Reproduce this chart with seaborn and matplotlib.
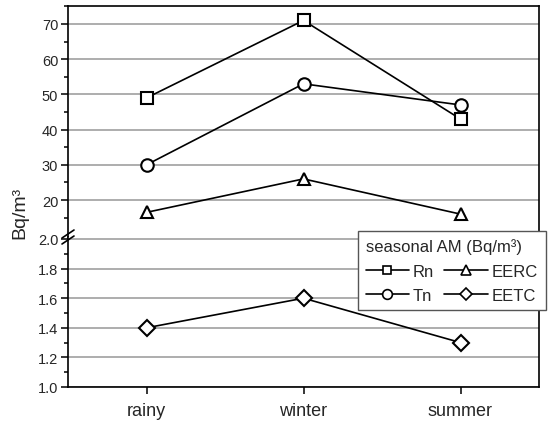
import matplotlib
matplotlib.use("Agg")
import matplotlib.pyplot as plt
from matplotlib.lines import Line2D
from matplotlib.ticker import FixedLocator
import seaborn as sns
import pandas as pd

seasons = ["rainy", "winter", "summer"]
rn = [49, 71, 43]
tn = [30, 53, 47]
eerc = [16.5, 26, 16]
eetc = [1.4, 1.6, 1.3]

upper_ticks = [20, 30, 40, 50, 60, 70]
lower_ticks = [1.0, 1.2, 1.4, 1.6, 1.8, 2.0]

sns.set_theme(style="white")
plt.rcParams['font.family'] = ['Liberation Sans', 'DejaVu Sans']

W, H = 550, 427
fig = plt.figure(figsize=(W / 100, H / 100), dpi=100)
L, R = 68 / W, 539 / W
ytop, ybrk, ybot = 7, 238, 388
ax_up = fig.add_axes([L, 1 - ybrk / H, R - L, (ybrk - ytop) / H])
ax_lo = fig.add_axes([L, 1 - ybot / H, R - L, (ybot - ybrk) / H])

mk = dict(color="black", markerfacecolor="white", markeredgecolor="black",
          markeredgewidth=1.5, markersize=9, linewidth=1.2)

df = pd.DataFrame({"season": seasons, "Rn": rn, "Tn": tn, "EERC": eerc, "EETC": eetc})

sns.lineplot(data=df, x="season", y="Rn", marker="s", ax=ax_up, sort=False, **mk)
sns.lineplot(data=df, x="season", y="Tn", marker="o", ax=ax_up, sort=False, **mk)
sns.lineplot(data=df, x="season", y="EERC", marker="^", ax=ax_up, sort=False, **mk)
sns.lineplot(data=df, x="season", y="EETC", marker="D", ax=ax_lo, sort=False,
             **{**mk, "markersize": 8})

ax_up.set_ylim(9.5, 75.1)
ax_lo.set_ylim(1.0, 2.0135)
for ax in (ax_up, ax_lo):
    ax.set_xlim(-0.5, 2.5)
    ax.set_xlabel("")
    ax.set_ylabel("")
    for s in ax.spines.values():
        s.set_color("black")
        s.set_linewidth(1.2)
    ax.tick_params(axis="y", which="major", left=True, direction="out", length=5,
                   width=1.1, color="black", labelsize=10.5, pad=2)
    ax.tick_params(axis="y", which="minor", left=True, direction="out", length=3,
                   width=1.1, color="black")
    ax.grid(axis="y", which="major", color="#a0a0a0", linewidth=1.2)
    ax.set_axisbelow(True)

ax_up.yaxis.set_major_locator(FixedLocator(upper_ticks))
ax_up.yaxis.set_minor_locator(FixedLocator([15, 25, 35, 45, 55, 65, 75]))
ax_lo.yaxis.set_major_locator(FixedLocator(lower_ticks))
ax_lo.yaxis.set_minor_locator(FixedLocator([1.1, 1.3, 1.5, 1.7, 1.9]))
ax_lo.set_yticklabels([f"{v:.1f}" for v in lower_ticks])

ax_up.spines["bottom"].set_visible(False)
ax_lo.spines["top"].set_visible(False)
ax_up.tick_params(axis="x", bottom=False, labelbottom=False)
ax_lo.tick_params(axis="x", bottom=True, direction="out", length=5, width=1.1,
                  color="black", labelsize=13, pad=6)

# break marks on left spine
for dy in (-3, 3):
    y0 = 1 - (ybrk + dy) / H
    fig.add_artist(Line2D([L - 6 / W, L + 6 / W], [y0 - 4 / H, y0 + 4 / H],
                          color="black", linewidth=1.2, transform=fig.transFigure))

fig.text(20 / W, 1 - 213 / H, "Bq/m³", rotation=90, ha="center", va="center", fontsize=14)

def h(m, ms=6):
    return Line2D([], [], color="black", marker=m, markerfacecolor="white",
                  markeredgecolor="black", markersize=ms, markeredgewidth=1.2,
                  linewidth=1.2)

handles = [h("s", 5.5), h("o", 7), h("^", 7), h("D", 6.5)]
labels = ["Rn", "Tn", "EERC", "EETC"]
leg = fig.legend(handles, labels, title="seasonal AM (Bq/m³)", ncol=2,
                 loc="upper left", bbox_to_anchor=(358 / W, 1 - 232 / H),
                 fontsize=12, title_fontsize=12, frameon=True, fancybox=False,
                 edgecolor="#555555", framealpha=1, handlelength=2.6,
                 columnspacing=0.6, handletextpad=0.25, labelspacing=0.55,
                 borderpad=0.45, borderaxespad=0)
leg.get_frame().set_linewidth(1.0)
leg._legend_box.align = "left"

fig.savefig("out.png", dpi=100)
